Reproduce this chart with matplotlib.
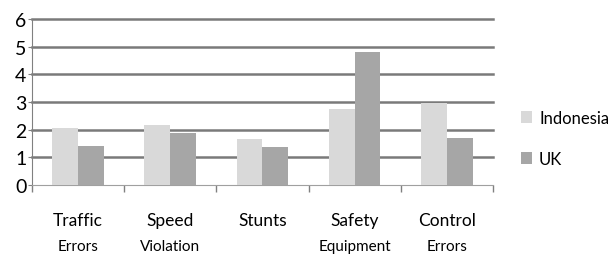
import numpy as np
import matplotlib.pyplot as plt
from matplotlib.transforms import blended_transform_factory

# data
line1 = ['Traffic', 'Speed', 'Stunts', 'Safety', 'Control']
line2 = ['Errors', 'Violation', '', 'Equipment', 'Errors']
indonesia = [2.05, 2.17, 1.66, 2.74, 2.96]
uk = [1.42, 1.87, 1.37, 4.8, 1.7]

plt.rcParams['font.family'] = ['Lato', 'DejaVu Sans']

fig = plt.figure(figsize=(6.09, 2.55), dpi=100)
ax = fig.add_axes([0.0525, 0.2706, 0.757, 0.651])

x = np.arange(len(line1))
w = 0.28
ax.bar(x - w / 2, indonesia, w, color='#d9d9d9', label='Indonesia', zorder=3)
ax.bar(x + w / 2, uk, w, color='#a6a6a6', label='UK', zorder=3)

ax.set_xlim(-0.5, len(line1) - 0.5)
ax.set_ylim(0, 6)
ax.set_yticks(range(7))
ax.tick_params(axis='y', labelsize=14, length=3, color='#808080', pad=1)
ax.set_xticks(np.arange(-0.5, len(line1), 1.0))
ax.set_xticklabels([])
ax.tick_params(axis='x', length=5, color='#808080', width=1)

for y in range(1, 7):
    ax.axhline(y, color='#7a7a7a', lw=1.8, zorder=1, clip_on=False)

for s in ['top', 'right']:
    ax.spines[s].set_visible(False)
ax.spines['left'].set_color('#808080')
ax.spines['bottom'].set_color('#a0a0a0')

tr = blended_transform_factory(ax.transData, fig.transFigure)
for i in range(len(line1)):
    ax.text(x[i], 1 - 221 / 255, line1[i], transform=tr, ha='center', va='center', fontsize=12.5)
    ax.text(x[i], 1 - 247 / 255, line2[i], transform=tr, ha='center', va='center', fontsize=11)

fig.legend(loc='upper left', bbox_to_anchor=(0.855, 0.565), frameon=False, fontsize=12,
           borderpad=0, borderaxespad=0,
           handlelength=0.7, handleheight=0.7, handletextpad=0.4, labelspacing=1.5)

fig.savefig('out.png', dpi=100)
